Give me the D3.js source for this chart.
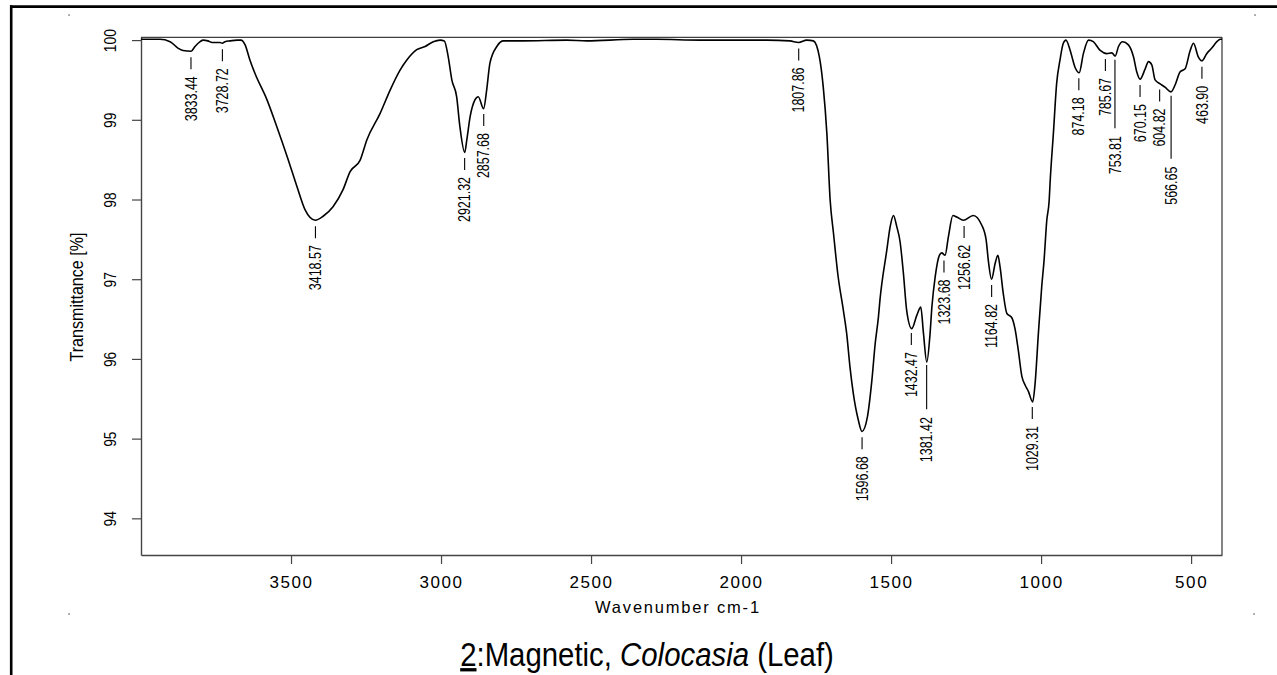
<!DOCTYPE html>
<html>
<head>
<meta charset="utf-8">
<script src="https://cdn.jsdelivr.net/npm/d3@7"></script>
<style>
  html, body { margin: 0; padding: 0; background: #fff; }
  svg { display: block; }
  text { font-family: "Liberation Sans", Arial, sans-serif; fill: #000; }
</style>
</head>
<body>
<svg id="chart" width="1277" height="675"></svg>
<script>
// ---- Data ----
const wavenumbers = [4000,3937,3903,3877,3860,3833,3820,3803,3793,3777,3763,3737,3729,3720,3703,3680,3667,3653,3637,3620,3580,3547,3513,3480,3453,3419,3393,3360,3327,3303,3270,3247,3203,3170,3137,3114,3081,3053,3026,3003,2989,2976,2964,2948,2937,2921,2914,2903,2887,2876,2858,2848,2837,2814,2792,2727,2581,2514,2360,2281,2137,1914,1837,1808,1781,1759,1739,1726,1714,1703,1692,1677,1659,1648,1637,1626,1609,1597,1579,1564,1553,1542,1537,1514,1503,1492,1481,1470,1459,1448,1431,1414,1401,1392,1381,1370,1364,1353,1339,1331,1320,1309,1294,1281,1259,1226,1198,1183,1176,1165,1153,1144,1137,1126,1114,1098,1087,1076,1064,1053,1042,1028,1020,1009,998,990,981,973,970,959,948,937,926,917,903,887,873,859,842,826,803,781,764,753,742,728,709,692,681,670,653,642,631,620,603,587,567,553,537,520,503,492,476,464,448,431,414,403,397];
const transmittance = [100.01,100.01,99.98,99.90,99.87,99.86,99.92,99.98,100.00,99.99,99.97,99.97,99.96,99.98,99.99,100.00,100.00,99.94,99.75,99.58,99.25,98.91,98.54,98.16,97.87,97.74,97.79,97.91,98.12,98.35,98.49,98.75,99.08,99.37,99.62,99.75,99.88,99.92,99.98,100.00,99.99,99.79,99.50,99.29,98.91,98.59,98.75,99.04,99.25,99.29,99.14,99.37,99.71,99.92,99.99,99.99,100.00,99.99,100.01,100.01,100.00,100.00,99.99,99.97,100.00,99.99,99.79,99.41,98.83,97.99,97.58,97.05,96.61,96.32,95.90,95.57,95.23,95.09,95.27,95.73,96.19,96.53,96.74,97.37,97.66,97.80,97.66,97.47,97.08,96.61,96.38,96.55,96.65,96.32,95.96,96.32,96.65,97.03,97.30,97.33,97.30,97.53,97.80,97.78,97.74,97.80,97.68,97.49,97.24,97.00,97.20,97.30,97.16,96.82,96.57,96.52,96.38,96.11,95.78,95.67,95.59,95.46,95.69,96.32,96.90,97.24,97.74,97.99,98.21,98.83,99.46,99.75,99.96,100.00,99.87,99.66,99.59,99.83,100.00,99.98,99.87,99.83,99.84,99.80,99.92,99.98,99.94,99.79,99.60,99.51,99.64,99.73,99.69,99.50,99.45,99.41,99.35,99.44,99.60,99.64,99.87,99.96,99.79,99.74,99.83,99.90,99.98,100.01,100.01];
const peakWavenumbers = [3833.44,3728.72,3418.57,2921.32,2857.68,1807.86,1596.68,1432.47,1381.42,1323.68,1256.62,1164.82,1029.31,874.18,785.67,753.81,670.15,604.82,566.65,463.90];
const xTickValues = [3500,3000,2500,2000,1500,1000,500];
const yTickValues = [94,95,96,97,98,99,100];
const xDomain = [4000, 397];
const yDomain = [93.54, 100.035];
const xAxisTitle = "Wavenumber cm-1";
const yAxisTitle = "Transmittance [%]";

// ---- Layout ----
const svg = d3.select("#chart");
const W = 1277, H = 675;
const plot = { left: 141, right: 1222, top: 37.3, bottom: 555 };

svg.append("rect").attr("width", W).attr("height", H).attr("fill", "#fff");

// outer frame (top + left thick lines)
svg.append("line").attr("x1", 10).attr("x2", W).attr("y1", 6.6).attr("y2", 6.6)
  .attr("stroke", "#000").attr("stroke-width", 2.6);
svg.append("line").attr("x1", 11.2).attr("x2", 11.2).attr("y1", 5.3).attr("y2", H)
  .attr("stroke", "#000").attr("stroke-width", 2.6);

// small corner marks
[[69,15],[1255,15],[69,614],[1254,614]].forEach(([cx, cy]) => {
  svg.append("rect").attr("x", cx - 0.7).attr("y", cy - 0.7).attr("width", 1.5).attr("height", 1.5).attr("fill", "#777");
});

const x = d3.scaleLinear().domain(xDomain).range([plot.left, plot.right]);
const y = d3.scaleLinear().domain(yDomain).range([plot.bottom, plot.top]);

// plot border
svg.append("line").attr("x1", plot.left).attr("x2", plot.right).attr("y1", plot.top).attr("y2", plot.top)
  .attr("stroke", "#111").attr("stroke-width", 1);
svg.append("line").attr("x1", plot.right).attr("x2", plot.right).attr("y1", plot.top).attr("y2", plot.bottom)
  .attr("stroke", "#333").attr("stroke-width", 1.2);

// x axis
const xAxis = svg.append("g").attr("transform", `translate(0,${plot.bottom})`)
  .call(d3.axisBottom(x).tickValues(xTickValues).tickSize(9).tickSizeOuter(0).tickFormat(d3.format("d")));
xAxis.select(".domain").attr("stroke", "#444").attr("stroke-width", 1.4);
xAxis.selectAll(".tick line").attr("stroke", "#444").attr("stroke-width", 1.2);
xAxis.selectAll(".tick text").attr("y", 27).attr("dy", "0.35em")
  .style("font-family", "'Liberation Sans', Arial, sans-serif")
  .style("font-size", "17px").style("letter-spacing", "1.6px").attr("fill", "#000");

// y axis
const yAxis = svg.append("g").attr("transform", `translate(${plot.left},0)`)
  .call(d3.axisLeft(y).tickValues(yTickValues).tickSize(9).tickSizeOuter(0).tickFormat(d3.format("d")));
yAxis.select(".domain").attr("stroke", "#444").attr("stroke-width", 1.4);
yAxis.selectAll(".tick line").attr("stroke", "#444").attr("stroke-width", 1.2);
yAxis.selectAll(".tick text")
  .attr("x", null).attr("dy", null)
  .attr("text-anchor", "middle")
  .attr("dominant-baseline", "central")
  .attr("transform", "translate(-31,0) rotate(-90) scale(0.84,1)")
  .style("font-family", "'Liberation Sans', Arial, sans-serif")
  .style("font-size", "16.5px").attr("fill", "#000");

// axis titles
svg.append("text").attr("x", 678).attr("y", 607).attr("text-anchor", "middle")
  .attr("dominant-baseline", "central")
  .style("font-size", "16.5px").style("letter-spacing", "1.8px").text(xAxisTitle);
svg.append("text")
  .attr("transform", "translate(77,297) rotate(-90) scale(0.92,1)")
  .attr("text-anchor", "middle").attr("dominant-baseline", "central")
  .style("font-size", "17.5px").text(yAxisTitle);

// spectrum line
const pts = wavenumbers.map((w, i) => [w, transmittance[i]]);
svg.append("path").datum(pts)
  .attr("fill", "none").attr("stroke", "#000").attr("stroke-width", 1.6)
  .attr("stroke-linejoin", "round")
  .attr("d", d3.line().x(d => x(d[0])).y(d => y(d[1])).curve(d3.curveMonotoneX));

// peak labels
function interpT(w) {
  for (let i = 0; i < wavenumbers.length - 1; i++) {
    const a = wavenumbers[i], b = wavenumbers[i + 1];
    if (w <= a && w >= b) {
      const t = (a - w) / (a - b);
      return transmittance[i] + t * (transmittance[i + 1] - transmittance[i]);
    }
  }
  return 100;
}
const fmt = d3.format(".2f");
const placed = [];
const labelG = svg.append("g");
peakWavenumbers.forEach(w => {
  const px = x(w), cy = y(interpT(w));
  const label = fmt(w);
  const t = labelG.append("text")
    .attr("text-anchor", "end").attr("dominant-baseline", "central")
    .style("font-size", "16px").text(label);
  const len = t.node().getComputedTextLength() * 0.78;
  let lineTop = cy + 6, lineBottom = lineTop + 12, textTop = lineBottom + 7;
  let pushed = true;
  while (pushed) {
    pushed = false;
    for (const q of placed) {
      if (Math.abs(q.x - px) < 16 && textTop < q.bottom + 6 && textTop + len > q.top - 6) {
        textTop = q.bottom + 20;
        lineTop = cy + 4;
        lineBottom = textTop - 8;
        pushed = true;
      }
    }
  }
  t.attr("transform", `translate(${px},${textTop}) rotate(-90) scale(0.78,1)`);
  labelG.append("line").attr("x1", px).attr("x2", px).attr("y1", lineTop).attr("y2", lineBottom)
    .attr("stroke", "#000").attr("stroke-width", 1.1);
  placed.push({ x: px, top: textTop, bottom: textTop + len });
});

// title
const title = svg.append("text")
  .attr("transform", "translate(647,666) scale(0.89,1)")
  .attr("text-anchor", "middle").style("font-size", "33px");
title.append("tspan").style("text-decoration", "underline").text("2");
title.append("tspan").text(":Magnetic, ");
title.append("tspan").style("font-style", "italic").text("Colocasia");
title.append("tspan").text(" (Leaf)");
</script>
</body>
</html>
